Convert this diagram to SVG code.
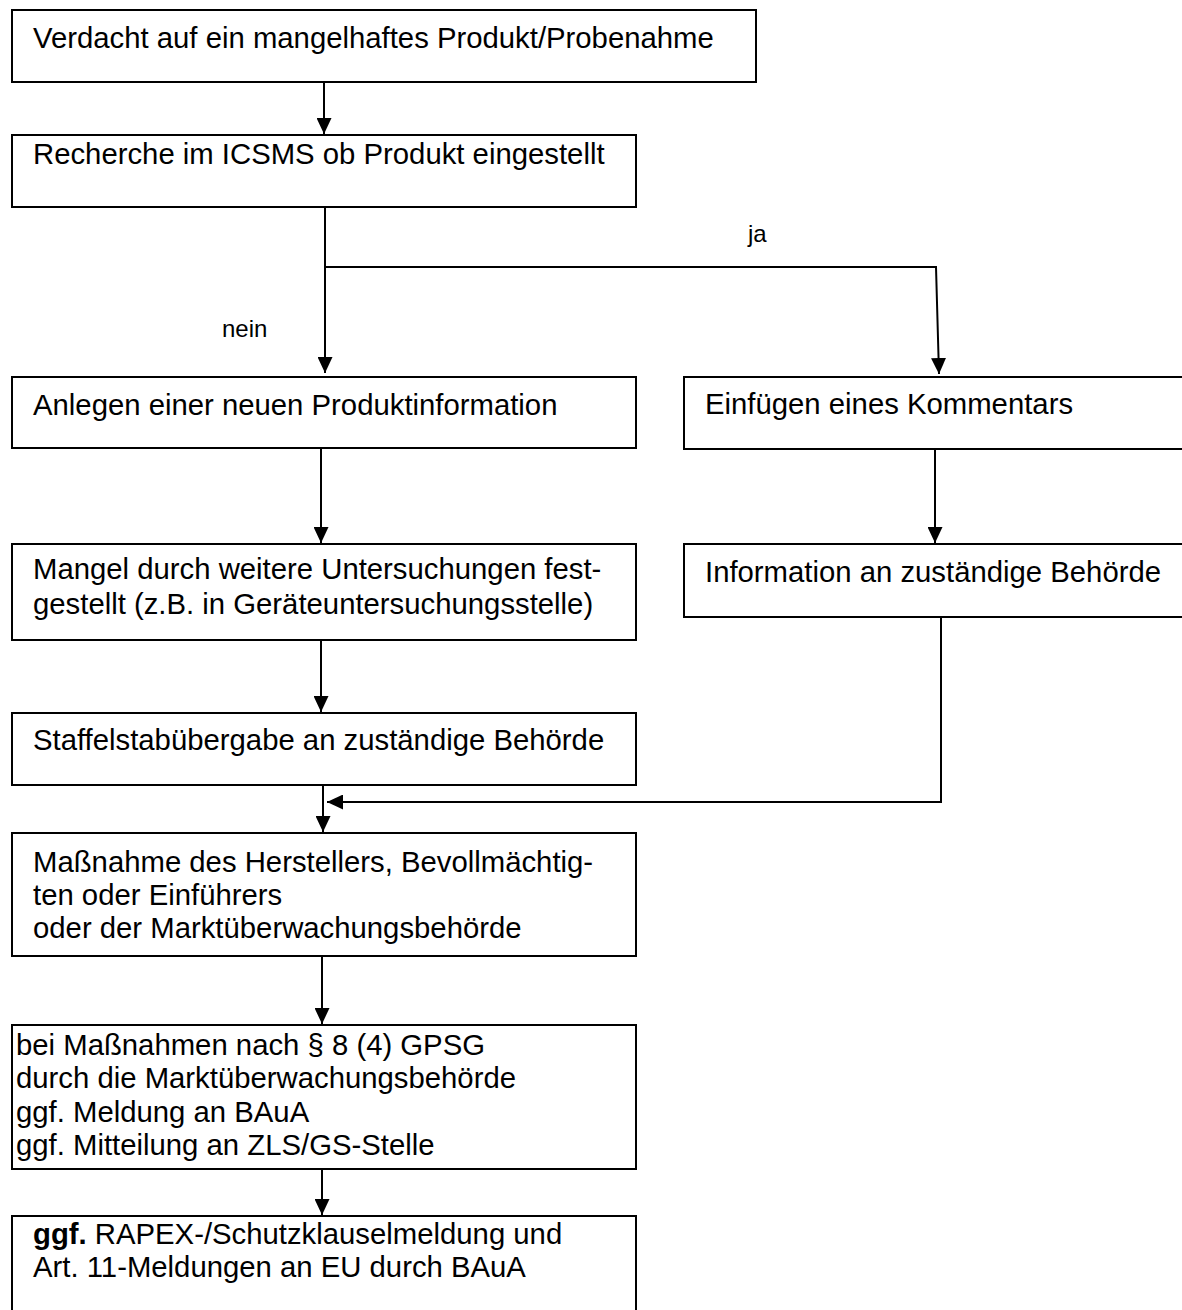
<svg xmlns="http://www.w3.org/2000/svg" width="1182" height="1310" viewBox="0 0 1182 1310">
<style>
.box{fill:#fff;stroke:#000;stroke-width:2}
.t{font-family:"Liberation Sans",Arial,sans-serif;font-size:29.3px;fill:#000}
.lbl{font-family:"Liberation Sans",Arial,sans-serif;font-size:24px;fill:#000}
.c{fill:none;stroke:#000;stroke-width:2}
</style>
<defs>
<marker id="ah" markerUnits="userSpaceOnUse" markerWidth="16" markerHeight="15" refX="16" refY="7.5" orient="auto">
<path d="M0,0 L16,7.5 L0,15 z" fill="#000"/>
</marker>
</defs>
<rect width="1182" height="1310" fill="#fff"/>
<g id="connectors">
<path class="c" d="M324,82 V134" marker-end="url(#ah)"/>
<path class="c" d="M325,207 V373" marker-end="url(#ah)"/>
<path class="c" d="M325,267 H936 L939,374" marker-end="url(#ah)"/>
<path class="c" d="M321,448 V543" marker-end="url(#ah)"/>
<path class="c" d="M935,449 V543" marker-end="url(#ah)"/>
<path class="c" d="M321,641 V712" marker-end="url(#ah)"/>
<path class="c" d="M323,785 V832" marker-end="url(#ah)"/>
<path class="c" d="M941,617 V802 H327" marker-end="url(#ah)"/>
<path class="c" d="M322,956 V1024" marker-end="url(#ah)"/>
<path class="c" d="M322,1169 V1215" marker-end="url(#ah)"/>
<text class="lbl" x="748" y="242">ja</text>
<text class="lbl" x="222" y="337">nein</text>
</g>
<g id="n1"><rect class="box" x="12" y="10" width="744" height="72"/><text class="t" x="33" y="48">Verdacht auf ein mangelhaftes Produkt/Probenahme</text></g>
<g id="n2"><rect class="box" x="12" y="135" width="624" height="72"/><text class="t" x="33" y="164">Recherche im ICSMS ob Produkt eingestellt</text></g>
<g id="n3"><rect class="box" x="12" y="377" width="624" height="71"/><text class="t" x="33" y="415">Anlegen einer neuen Produktinformation</text></g>
<g id="n4"><rect class="box" x="684" y="377" width="510" height="72"/><text class="t" x="705" y="414">Einfügen eines Kommentars</text></g>
<g id="n5"><rect class="box" x="12" y="544" width="624" height="96"/><text class="t" x="33" y="579">Mangel durch weitere Untersuchungen fest-</text><text class="t" x="33" y="614">gestellt (z.B. in Geräteuntersuchungsstelle)</text></g>
<g id="n6"><rect class="box" x="684" y="544" width="510" height="73"/><text class="t" x="705" y="582">Information an zuständige Behörde</text></g>
<g id="n7"><rect class="box" x="12" y="713" width="624" height="72"/><text class="t" x="33" y="750">Staffelstabübergabe an zuständige Behörde</text></g>
<g id="n8"><rect class="box" x="12" y="833" width="624" height="123"/><text class="t" x="33" y="872">Maßnahme des Herstellers, Bevollmächtig-</text><text class="t" x="33" y="905">ten oder Einführers</text><text class="t" x="33" y="938">oder der Marktüberwachungsbehörde</text></g>
<g id="n9"><rect class="box" x="12" y="1025" width="624" height="144"/><text class="t" x="16" y="1055">bei Maßnahmen nach § 8 (4) GPSG</text><text class="t" x="16" y="1088">durch die Marktüberwachungsbehörde</text><text class="t" x="16" y="1122">ggf. Meldung an BAuA</text><text class="t" x="16" y="1155">ggf. Mitteilung an ZLS/GS-Stelle</text></g>
<g id="n10"><rect class="box" x="12" y="1216" width="624" height="110"/><text class="t" x="33" y="1244"><tspan font-weight="bold">ggf.</tspan> RAPEX-/Schutzklauselmeldung und</text><text class="t" x="33" y="1277">Art. 11-Meldungen an EU durch BAuA</text></g>
</svg>
